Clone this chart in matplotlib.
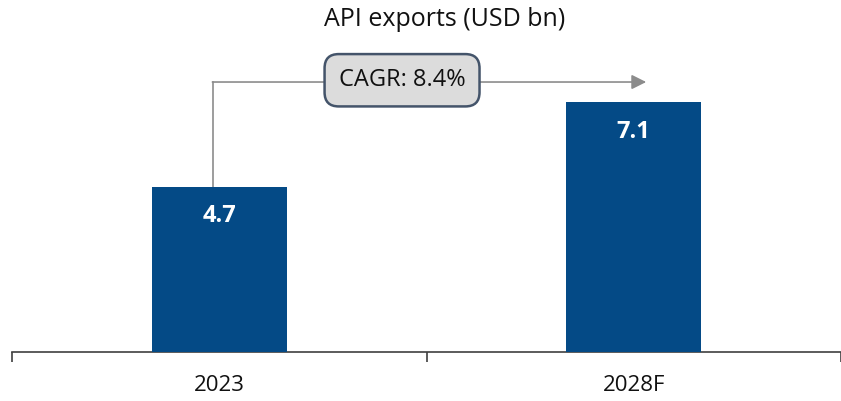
import matplotlib.pyplot as plt

plt.rcParams['font.family'] = ['Open Sans', 'DejaVu Sans']

years = ["2023", "2028F"]
exports = [4.7, 7.1]
cagr_label = "CAGR: 8.4%"
title = "API exports (USD bn)"

fig = plt.figure(figsize=(8.41, 4.01), dpi=100)
ax = fig.add_axes([12 / 841, 49 / 401, 829 / 841, 352 / 401])

xs = list(range(len(years)))
bars = ax.bar(xs, exports, width=0.325, color="#044A86", zorder=3)
for x, v in zip(xs, exports):
    ax.text(x, v - 0.85, f"{v:.1f}", ha="center", va="center",
            color="white", fontsize=17, fontweight="bold", zorder=4)

ax.set_xlim(-0.5, 1.5)
ax.set_ylim(0, 10)

# only the bottom axis line, ticks on category boundaries
for s in ["top", "right", "left"]:
    ax.spines[s].set_visible(False)
ax.spines["bottom"].set_color("#404040")
ax.spines["bottom"].set_linewidth(1.2)
ax.set_yticks([])
ax.set_xticks([-0.5, 0.5, 1.5])
ax.set_xticklabels([])
ax.tick_params(axis="x", length=7, width=1.2, color="#404040", direction="out")
for x, lab in zip(xs, years):
    ax.text(x, -0.95, lab, ha="center", va="center", fontsize=16, color="#111111")

# CAGR connector arrow
line_y = 7.67
ax.plot([-0.015, -0.015], [exports[0], line_y], color="#8C8C8C", lw=1.2, zorder=2)
ax.annotate("", xy=(1.03, line_y), xytext=(-0.0165, line_y),
            arrowprops=dict(arrowstyle="-|>", color="#8C8C8C", lw=1.2,
                            mutation_scale=22, shrinkA=0, shrinkB=0), zorder=2)
ax.text(0.441, line_y + 0.05, cagr_label, ha="center", va="center", fontsize=17,
        color="#111111", zorder=5,
        bbox=dict(boxstyle="round,pad=0.6,rounding_size=0.6", fc="#DCDCDC",
                  ec="#44546A", lw=1.8))

fig.text(445 / 841, 1 - 20 / 401, title, ha="center", va="center", fontsize=18,
         color="#111111")

fig.savefig("out.png", dpi=100)
